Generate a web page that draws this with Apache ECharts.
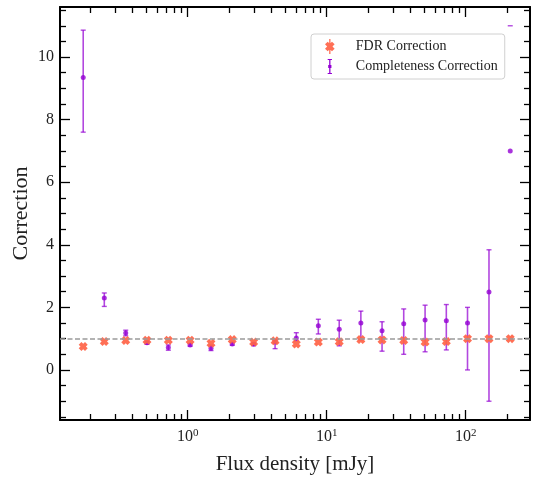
<!DOCTYPE html>
<html>
<head>
<meta charset="utf-8">
<script src="https://cdn.jsdelivr.net/npm/echarts@6/dist/echarts.min.js"></script>
<style>
html,body{margin:0;padding:0;background:#fff;}
#chart{width:536px;height:479px;}
</style>
</head>
<body>
<div id="chart"></div>
<script>
// ---- data ----
const fluxBins = [0.177, 0.251, 0.358, 0.509, 0.725, 1.04, 1.47, 2.09, 2.98, 4.25, 6.04, 8.7, 12.3, 17.6, 25.0, 35.8, 51, 72.5, 103, 147, 209];
const fdrValues = [0.75, 0.91, 0.94, 0.95, 0.95, 0.95, 0.85, 0.97, 0.89, 0.93, 0.83, 0.89, 0.90, 0.97, 0.96, 0.94, 0.89, 0.91, 1.0, 1.0, 1.0];
const complValues = [9.35, 2.30, 1.18, 0.87, 0.72, 0.80, 0.69, 0.83, 0.82, 0.89, 1.02, 1.41, 1.30, 1.50, 1.25, 1.48, 1.60, 1.57, 1.50, 2.49, 7.0];
const complLow  = [7.60, 2.03, 1.09, 0.82, 0.63, 0.76, 0.62, 0.79, 0.78, 0.68, 0.93, 1.15, 0.77, 0.96, 0.60, 0.50, 0.58, 0.64, 0.00, -1.00, null];
const complHigh = [10.86, 2.46, 1.27, 0.92, 0.80, 0.84, 0.79, 0.88, 0.87, 0.96, 1.19, 1.62, 1.59, 1.88, 1.54, 1.95, 2.07, 2.09, 2.00, 3.84, null];
const complStrayCap = [[209, 11.0]];
const referenceLevel = 1;
const xMajorTicks = [1, 10, 100];
const xMinorTicks = [0.2,0.3,0.4,0.5,0.6,0.7,0.8,0.9, 2,3,4,5,6,7,8,9, 20,30,40,50,60,70,80,90, 200];
const yMajorTicks = [0, 2, 4, 6, 8, 10];
const yMinorTicks = [-1.5,-1,-0.5,0.5,1,1.5,2.5,3,3.5,4.5,5,5.5,6.5,7,7.5,8.5,9,9.5,10.5,11,11.5];
const xRange = [0.1205, 290];
const yRange = [-1.6, 11.6];

// ---- styling ----
const FONT = 'Liberation Serif';
const PURPLE = '#9400D3';
const ORANGE = '#FF6347';
const xMarker = 'path://M0,3 L3,0 L5,2 L7,0 L10,3 L8,5 L10,7 L7,10 L5,8 L3,10 L0,7 L2,5 Z';
const fdrIcon = 'path://M5.4,0 L6.6,0 L6.6,14 L5.4,14 Z M1.5,5 L4,2.5 L6,4.5 L8,2.5 L10.5,5 L8.5,7 L10.5,9 L8,11.5 L6,9.5 L4,11.5 L1.5,9 L3.5,7 Z';
const complIcon = 'path://M4,0 L8,0 L8,1 L6.6,1 L6.6,13 L8,13 L8,14 L4,14 L4,13 L5.4,13 L5.4,1 L4,1 Z M4.5,5.5 L7.5,5.5 L7.5,8.5 L4.5,8.5 Z';

const errData = fluxBins.map((x, i) => [x, complLow[i], complHigh[i]]).filter(d => d[1] !== null);

function errRender(params, api) {
  const x = api.value(0);
  const p1 = api.coord([x, api.value(1)]);
  const p2 = api.coord([x, api.value(2)]);
  const c = 'rgba(148,0,211,0.72)';
  const cw = 2.5;
  return {
    type: 'group',
    children: [
      {type: 'line', shape: {x1: p1[0], y1: p1[1], x2: p2[0], y2: p2[1]}, style: {stroke: c, lineWidth: 1.6}},
      {type: 'line', shape: {x1: p1[0]-cw, y1: p1[1], x2: p1[0]+cw, y2: p1[1]}, style: {stroke: c, lineWidth: 1.4}},
      {type: 'line', shape: {x1: p2[0]-cw, y1: p2[1], x2: p2[0]+cw, y2: p2[1]}, style: {stroke: c, lineWidth: 1.4}}
    ]
  };
}
function capRender(params, api) {
  const p = api.coord([api.value(0), api.value(1)]);
  return {type: 'line', shape: {x1: p[0]-2.5, y1: p[1], x2: p[0]+2.5, y2: p[1]}, style: {stroke: 'rgba(148,0,211,0.72)', lineWidth: 1.4}};
}

const axisLineStyle = {color: '#000', width: 2};
const tickStyle = {color: '#000', width: 1.3};
function xAxisDef(pos, major, withLabels) {
  const a = {
    type: 'log', logBase: 10, min: xRange[0], max: xRange[1], position: pos,
    axisLine: {show: major, onZero: false, lineStyle: axisLineStyle},
    axisTick: {show: true, inside: true, length: major ? 10 : 6, lineStyle: tickStyle, customValues: major ? xMajorTicks : xMinorTicks},
    axisLabel: {show: withLabels},
    splitLine: {show: false}, minorTick: {show: false}
  };
  if (withLabels) {
    a.axisLabel = {
      show: true, customValues: xMajorTicks, margin: 8,
      formatter: v => '{b|10}{s|' + Math.round(Math.log10(v)) + '}',
      rich: {b: {fontFamily: FONT, fontSize: 16, color: '#222'}, s: {fontFamily: FONT, fontSize: 11, color: '#222', verticalAlign: 'top', padding: [0,0,6,0]}}
    };
    a.name = 'Flux density [mJy]';
    a.nameLocation = 'middle';
    a.nameGap = 34;
    a.nameTextStyle = {fontFamily: FONT, fontSize: 21, color: '#222'};
  }
  return a;
}
function yAxisDef(pos, major, withLabels) {
  const a = {
    type: 'value', min: yRange[0], max: yRange[1], position: pos,
    axisLine: {show: major, onZero: false, lineStyle: axisLineStyle},
    axisTick: {show: true, inside: true, length: major ? 10 : 6, lineStyle: tickStyle, customValues: major ? yMajorTicks : yMinorTicks},
    axisLabel: {show: false},
    splitLine: {show: false}
  };
  if (withLabels) {
    a.axisLabel = {show: true, customValues: yMajorTicks, margin: 6, fontFamily: FONT, fontSize: 16, color: '#222'};
    a.name = 'Correction';
    a.nameLocation = 'middle';
    a.nameGap = 28;
    a.nameMoveOverlap = false;
    a.nameTextStyle = {fontFamily: FONT, fontSize: 22, color: '#222'};
  }
  return a;
}

const chart = echarts.init(document.getElementById('chart'), null, {renderer: 'canvas'});
chart.setOption({
  animation: false,
  backgroundColor: '#fff',
  grid: {left: 60, right: 6, top: 7, bottom: 59, containLabel: false, outerBoundsMode: 'none'},
  xAxis: [xAxisDef('bottom', true, true), xAxisDef('bottom', false, false), xAxisDef('top', true, false), xAxisDef('top', false, false)],
  yAxis: [yAxisDef('left', true, true), yAxisDef('left', false, false), yAxisDef('right', true, false), yAxisDef('right', false, false)],
  legend: {
    orient: 'vertical', left: 311, top: 34,
    padding: [5, 7, 5, 14], itemWidth: 12, itemHeight: 15, itemGap: 5,
    borderColor: '#d0d0d0', borderWidth: 1, borderRadius: 3, backgroundColor: 'rgba(255,255,255,0.85)',
    textStyle: {fontFamily: FONT, fontSize: 14, color: '#222', padding: [0, 0, 0, 15]},
    data: [{name: 'FDR Correction', icon: fdrIcon}, {name: 'Completeness Correction', icon: complIcon}]
  },
  series: [
    {
      name: 'Completeness Correction', type: 'custom', renderItem: errRender, data: errData,
      itemStyle: {color: PURPLE}, encode: {x: 0, y: [1, 2]}, z: 2, silent: true,
      markLine: {silent: true, symbol: ['none', 'none'], label: {show: false},
        lineStyle: {color: '#9a9a9a', type: [5, 2.5], width: 1.5}, data: [{yAxis: referenceLevel}]}
    },
    {
      name: 'Completeness Correction', type: 'custom', renderItem: capRender, data: complStrayCap,
      itemStyle: {color: PURPLE}, encode: {x: 0, y: 1}, z: 2, silent: true
    },
    {
      name: 'Completeness Correction', type: 'scatter', symbol: 'circle', symbolSize: 5,
      itemStyle: {color: PURPLE}, data: fluxBins.map((x, i) => [x, complValues[i]]), z: 3
    },
    {
      name: 'FDR Correction', type: 'scatter', symbol: xMarker, symbolSize: 9,
      itemStyle: {color: ORANGE, opacity: 0.92}, data: fluxBins.map((x, i) => [x, fdrValues[i]]), z: 4
    }
  ]
});
</script>
</body>
</html>
